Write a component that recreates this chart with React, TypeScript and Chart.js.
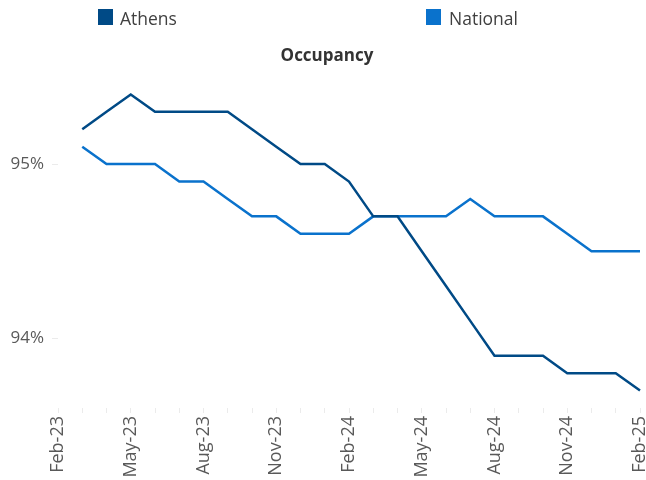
import React, { useEffect, useRef } from "react";
import { Chart, registerables } from "chart.js";

Chart.register(...registerables);

const months = [
  "Feb-23", "Mar-23", "Apr-23", "May-23", "Jun-23", "Jul-23", "Aug-23", "Sep-23", "Oct-23", "Nov-23", "Dec-23", "Jan-24",
  "Feb-24", "Mar-24", "Apr-24", "May-24", "Jun-24", "Jul-24", "Aug-24", "Sep-24", "Oct-24", "Nov-24", "Dec-24", "Jan-25",
  "Feb-25",
];

const athens = [
  null, 95.2, 95.3, 95.4, 95.3, 95.3, 95.3, 95.3, 95.2, 95.1, 95.0, 95.0,
  94.9, 94.7, 94.7, 94.5, 94.3, 94.1, 93.9, 93.9, 93.9, 93.8, 93.8, 93.8,
  93.7,
];

const national = [
  null, 95.1, 95.0, 95.0, 95.0, 94.9, 94.9, 94.8, 94.7, 94.7, 94.6, 94.6,
  94.6, 94.7, 94.7, 94.7, 94.7, 94.8, 94.7, 94.7, 94.7, 94.6, 94.5, 94.5,
  94.5,
];

const yTickValues = [94, 95];

const seriesNames = ["Athens", "National"];
const seriesColors = ["#004A86", "#0A72CC"];

const FONT = "'Open Sans', 'DejaVu Sans', sans-serif";

const titleShift = {
  id: "titleShift",
  afterLayout(chart: any) {
    if (chart.titleBlock) {
      chart.titleBlock.left = 14;
    }
  },
};

export default function App() {
  const canvasRef = useRef<HTMLCanvasElement | null>(null);

  useEffect(() => {
    if (!canvasRef.current) return;
    const chart = new Chart(canvasRef.current, {
      type: "line",
      data: {
        labels: months,
        datasets: [
          {
            label: seriesNames[0],
            data: athens,
            borderColor: seriesColors[0],
            backgroundColor: seriesColors[0],
            borderWidth: 2.5,
            pointRadius: 0,
            tension: 0,
          },
          {
            label: seriesNames[1],
            data: national,
            borderColor: seriesColors[1],
            backgroundColor: seriesColors[1],
            borderWidth: 2.5,
            pointRadius: 0,
            tension: 0,
          },
        ],
      },
      plugins: [titleShift],
      options: {
        responsive: false,
        animation: false,
        devicePixelRatio: 1,
        layout: { padding: { left: 0, right: 6, top: 0, bottom: 0 } },
        plugins: {
          legend: { display: false },
          tooltip: { enabled: false },
          title: {
            display: true,
            text: "Occupancy",
            color: "#333333",
            font: { family: FONT, size: 17, weight: "bold" },
            padding: { top: 45.5, bottom: 11.1 },
          },
        },
        scales: {
          x: {
            type: "category",
            offset: false,
            border: { display: false },
            grid: {
              display: true,
              drawOnChartArea: false,
              drawTicks: true,
              tickLength: 5,
              color: "#ebebeb",
            },
            ticks: {
              autoSkip: false,
              maxRotation: 90,
              minRotation: 90,
              padding: 3,
              color: "#595959",
              font: { family: FONT, size: 18 },
              callback: (_v: any, idx: number) => (idx % 3 === 0 ? months[idx] : ""),
            },
            afterFit: (scale: any) => {
              scale.height = 72;
              scale.paddingLeft = 0;
              scale.paddingRight = 0;
            },
          },
          y: {
            min: 93.6,
            max: 95.5,
            border: { display: false },
            grid: {
              display: true,
              drawOnChartArea: false,
              drawTicks: true,
              tickLength: 6,
              color: "#ebebeb",
            },
            afterBuildTicks: (scale: any) => {
              scale.ticks = yTickValues.map((v) => ({ value: v }));
            },
            ticks: {
              padding: 8,
              color: "#595959",
              font: { family: FONT, size: 17 },
              callback: (v: any) => `${Math.round(Number(v))}%`,
            },
            afterFit: (scale: any) => {
              scale.width = 58;
              scale.paddingTop = 0;
              scale.paddingBottom = 0;
            },
          },
        },
      },
    });
    return () => chart.destroy();
  }, []);

  const legendPos = [
    { box: 98, text: 120 },
    { box: 426, text: 449 },
  ];

  return (
    <div style={{ position: "fixed", left: 0, top: 0, width: 646, height: 480, background: "#ffffff" }}>
      <canvas ref={canvasRef} width={646} height={480} style={{ display: "block" }} />
      {seriesNames.map((name, i) => (
        <React.Fragment key={name}>
          <div
            style={{
              position: "absolute",
              left: legendPos[i].box,
              top: 9,
              width: 15,
              height: 16,
              background: seriesColors[i],
            }}
          />
          <div
            style={{
              position: "absolute",
              left: legendPos[i].text,
              top: 6,
              height: 24,
              lineHeight: "24px",
              fontFamily: FONT,
              fontSize: 17.5,
              color: "#404040",
              whiteSpace: "nowrap",
            }}
          >
            {name}
          </div>
        </React.Fragment>
      ))}
    </div>
  );
}
